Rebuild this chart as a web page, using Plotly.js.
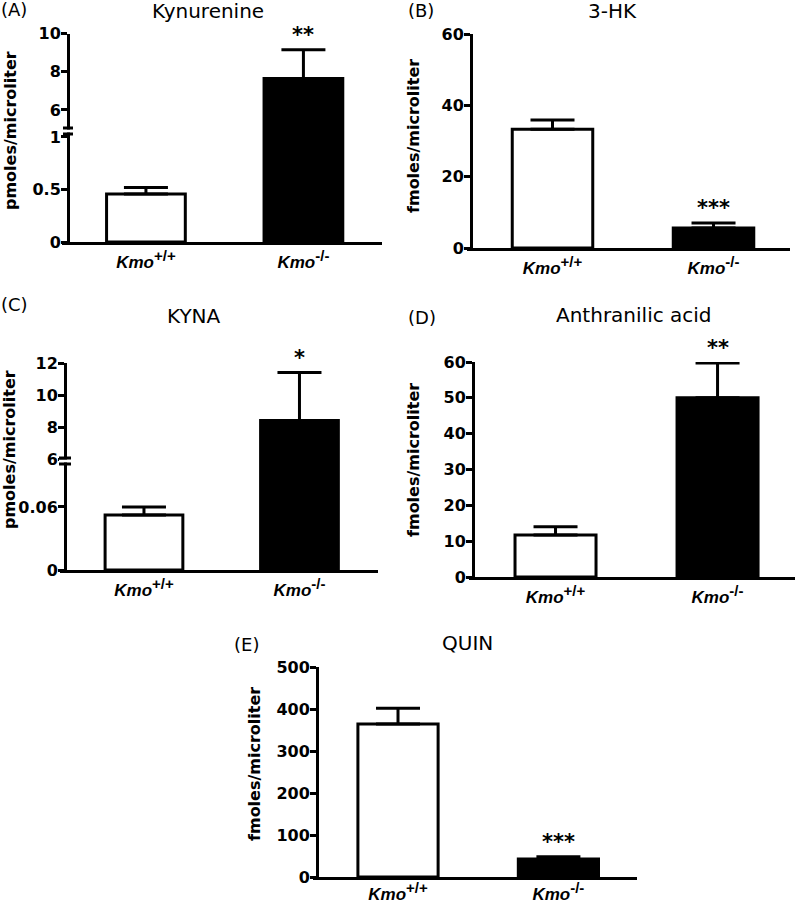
<!DOCTYPE html>
<html>
<head>
<meta charset="utf-8">
<script src="https://cdn.plot.ly/plotly-3.0.1.min.js"></script>
<style>body{margin:0;background:#fff}</style>
</head>
<body>
<div id="plot" style="width:800px;height:905px"></div>
<script>
// genotypes
var categories = ["Kmo+/+", "Kmo-/-"];
var tickText = ["<i>Kmo</i><sup><span style='font-size:15px'>+/+</span></sup>",
                "<i>Kmo</i><sup><span style='font-size:15px'>-/-</span></sup>"];
var barFill = ["#ffffff", "#000000"];

// mean and SEM
var kynMean = [0.457, 7.64];   var kynSem = [0.063, 1.51];  // pmoles/ul
var hkMean = [33.3, 5.6];      var hkSem = [2.6, 1.4];      // fmoles/ul
var kynaMean = [0.0524, 8.4];  var kynaSem = [0.0076, 3.0]; // pmoles/ul
var aaMean = [11.7, 50.0];     var aaSem = [2.3, 9.7];      // fmoles/ul
var quinMean = [364, 43];      var quinSem = [38, 5];       // fmoles/ul

var kynStars = ["", "**"];
var hkStars = ["", "***"];
var kynaStars = ["", "*"];
var aaStars = ["", "**"];
var quinStars = ["", "***"];

// pixel -> paper
function P(x) { return x / 800; }
function Q(y) { return 1 - y / 905; }

function xax(left, right, r0, r1, anchor, standoff) {
  return {
    domain: [P(left), P(right)], range: [r0, r1], anchor: anchor,
    type: "category", categoryorder: "array", categoryarray: categories,
    tickvals: categories, ticktext: tickText, ticks: "",
    showline: true, linewidth: 3, linecolor: "#000",
    showgrid: false, zeroline: false, ticklabelstandoff: standoff,
    tickfont: { family: "Liberation Sans", size: 17, weight: "bold", color: "#000" }
  };
}

function yax(bottom, top, r0, r1, pos, vals) {
  return {
    domain: [Q(bottom), Q(top)], range: [r0, r1], anchor: "free", position: P(pos),
    tickvals: vals, ticks: "outside", ticklen: 6, tickwidth: 3, tickcolor: "#000",
    showline: true, linewidth: 3, linecolor: "#000",
    showgrid: false, zeroline: false, ticklabelstandoff: -3,
    tickfont: { family: "DejaVu Sans", size: 16, weight: "bold", color: "#000" }
  };
}

function bars(xs, ys, errs, xa, ya) {
  return {
    type: "bar", x: xs, y: ys, xaxis: xa, yaxis: ya, width: 0.5,
    marker: { color: xs.map(function (c) { return barFill[categories.indexOf(c)]; }),
              line: { color: "#000", width: 3 } },
    error_y: { type: "data", symmetric: false, array: errs, arrayminus: errs.map(function () { return 0; }),
               color: "#000", thickness: 3, width: 22 },
    hoverinfo: "skip"
  };
}

var data = [
  // (A) broken axis: lower + upper part
  bars(categories, kynMean, [kynSem[0], 0], "x", "y"),
  bars([categories[1]], [kynMean[1]], [kynSem[1]], "x", "y2"),
  // (B)
  bars(categories, hkMean, hkSem, "x2", "y3"),
  // (C) broken axis
  bars(categories, kynaMean, [kynaSem[0], 0], "x3", "y4"),
  bars([categories[1]], [kynaMean[1]], [kynaSem[1]], "x3", "y5"),
  // (D)
  bars(categories, aaMean, aaSem, "x4", "y6"),
  // (E)
  bars(categories, quinMean, quinSem, "x5", "y7")
];

var annotations = [];
function star(txt, means, sems, xa, ya) {
  for (var i = 0; i < categories.length; i++) {
    if (!txt[i]) continue;
    annotations.push({ xref: xa, yref: ya, x: categories[i], y: means[i] + sems[i],
      text: txt[i], showarrow: false, yanchor: "bottom", yshift: 1,
      font: { family: "DejaVu Sans", size: 21, weight: "bold", color: "#000" } });
  }
}
star(kynStars, kynMean, kynSem, "x", "y2");
star(hkStars, hkMean, hkSem, "x2", "y3");
star(kynaStars, kynaMean, kynaSem, "x3", "y5");
star(aaStars, aaMean, aaSem, "x4", "y6");
star(quinStars, quinMean, quinSem, "x5", "y7");

function label(txt, x, y, size, bold, angle) {
  annotations.push({ xref: "paper", yref: "paper", x: P(x), y: Q(y), text: txt,
    showarrow: false, xanchor: "center", yanchor: "middle", textangle: angle || 0,
    font: { family: "DejaVu Sans", size: size, weight: bold ? "bold" : "normal", color: "#000" } });
}
// panel letters
label("(A)", 14, 10, 18); label("(B)", 421, 11, 18); label("(C)", 14, 304, 18);
label("(D)", 422, 318, 18); label("(E)", 246, 644, 18);
// titles
label("Kynurenine", 208, 11, 20); label("3-HK", 612, 11, 20); label("KYNA", 194, 316, 20);
label("Anthranilic acid", 634, 315, 20); label("QUIN", 467, 643, 20);
// y titles
label("pmoles/microliter", 10, 131, 16, true, -90);
label("fmoles/microliter", 414, 136, 16, true, -90);
label("pmoles/microliter", 9, 450, 16, true, -90);
label("fmoles/microliter", 413, 460, 16, true, -90);
label("fmoles/microliter", 254, 764, 16, true, -90);

// axis break marks
var shapes = [];
function brk(x0, x1, yTop, yBot) {
  shapes.push({ type: "rect", xref: "paper", yref: "paper", x0: P(x0), x1: P(x1),
    y0: Q(yBot - 1.5), y1: Q(yTop + 1.5), fillcolor: "#fff", line: { width: 0 }, layer: "above" });
  [yTop, yBot].forEach(function (yy) {
    shapes.push({ type: "line", xref: "paper", yref: "paper", x0: P(x0), x1: P(x1),
      y0: Q(yy), y1: Q(yy), line: { color: "#000", width: 3 }, layer: "above" });
  });
}
brk(63, 73, 128, 134);
brk(59, 71, 458, 464);

var layout = {
  width: 800, height: 905,
  margin: { l: 0, r: 0, t: 0, b: 0 },
  paper_bgcolor: "#fff", plot_bgcolor: "rgba(0,0,0,0)",
  showlegend: false, hovermode: false,
  font: { family: "DejaVu Sans", color: "#000" },
  xaxis: xax(62, 382, -0.533, 1.499, "y", 3),
  yaxis: yax(242, 131, 0, 1.057, 68, [0, 0.5, 1]),
  yaxis2: yax(131, 33.5, 4.90, 10, 68, [6, 8, 10]),
  xaxis2: xax(467, 790, -0.531, 1.475, "y3", 3),
  yaxis3: yax(248, 34, 0, 60, 471, [0, 20, 40, 60]),
  xaxis3: xax(60, 378, -0.54, 1.505, "y4", 3),
  yaxis4: yax(570, 461, 0, 0.1038, 65, [0, 0.06]),
  yaxis5: yax(461, 363, 5.875, 12, 65, [6, 8, 10, 12]),
  xaxis4: xax(469, 795, -0.534, 1.478, "y6", 3),
  yaxis6: yax(577, 362, 0, 60, 473, [0, 10, 20, 30, 40, 50, 60]),
  xaxis5: xax(313, 637, -0.53, 1.49, "y7", 0),
  yaxis7: yax(877, 667, 0, 500, 317, [0, 100, 200, 300, 400, 500]),
  annotations: annotations,
  shapes: shapes
};

Plotly.newPlot("plot", data, layout, { staticPlot: true });
</script>
</body>
</html>
